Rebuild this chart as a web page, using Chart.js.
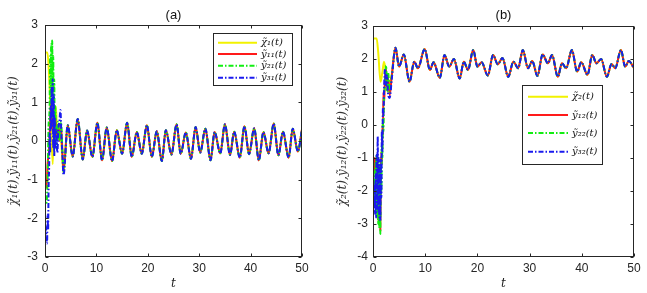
<!DOCTYPE html>
<html><head><meta charset="utf-8">
<script src="https://cdn.jsdelivr.net/npm/chart.js@4.4.0/dist/chart.umd.min.js"></script>
<style>
html,body{margin:0;padding:0;background:#fff;width:647px;height:293px;overflow:hidden}
canvas{position:absolute;top:0}
#ca{left:0}
#cb{left:323px}
</style></head><body>
<canvas id="ca" width="323" height="293"></canvas>
<canvas id="cb" width="324" height="293"></canvas>
<script>
// ---------- tick labels ----------
const xTicks = [0, 10, 20, 30, 40, 50];
const yTicksA = [-3, -2, -1, 0, 1, 2, 3];
const yTicksB = [-4, -3, -2, -1, 0, 1, 2, 3];

// ---------- series names ----------
const namesA = ['\u03C7\u0303\u2081(t)', 'ỹ\u2081\u2081(t)', 'ỹ\u2082\u2081(t)', 'ỹ\u2083\u2081(t)'];
const namesB = ['\u03C7\u0303\u2082(t)', 'ỹ\u2081\u2082(t)', 'ỹ\u2082\u2082(t)', 'ỹ\u2083\u2082(t)'];
const yTitleA = '\u03C7\u0303\u2081(t),ỹ\u2081\u2081(t),ỹ\u2082\u2081(t),ỹ\u2083\u2081(t)';
const yTitleB = '\u03C7\u0303\u2082(t),ỹ\u2081\u2082(t),ỹ\u2082\u2082(t),ỹ\u2083\u2082(t)';

// ---------- panel (a): shared steady oscillation (extrema) ----------
const steadyA_t = [4.42,5.39,6.36,7.34,8.18,9.22,10.19,11.1,12.01,13.05,13.96,15.0,15.97,16.88,17.86,18.83,19.81,20.78,21.75,22.73,23.51,24.6,25.6,26.4,27.4,28.4,29.3,30.2,31.2,32.2,33.0,34.1,35.0,36.0,36.8,37.9,38.8,39.7,40.7,41.6,42.5,43.5,44.5,45.4,46.3,47.4,48.2,49.2,50];
const steadyA_y = [0.41,-0.40,0.57,-0.48,0.27,-0.41,0.47,-0.50,0.35,-0.52,0.28,-0.33,0.47,-0.41,0.23,-0.33,0.41,-0.41,0.25,-0.52,0.28,-0.35,0.43,-0.33,0.22,-0.46,0.36,-0.30,0.32,-0.50,0.23,-0.32,0.43,-0.36,0.24,-0.43,0.38,-0.34,0.33,-0.50,0.23,-0.32,0.45,-0.37,0.24,-0.43,0.32,-0.27,0.30];
// panel (a) transients [t, value]
const earlyA_x1  = [[0,2.29],[0.45,2.29],[1.0,1.1],[1.5,-0.6],[1.8,0.6],[2.1,0.9],[2.4,0.2],[2.8,0.4],[3.2,-0.1],[3.6,-0.83]];
const earlyA_y11 = [[0,-1.2],[0.3,-1.2],[0.5,-0.6],[0.8,-0.2],[1.0,0.5],[1.2,1.0],[1.4,0.3],[1.6,1.1],[1.8,-0.1],[2.0,0.6],[2.3,0.1],[2.5,0.4],[2.8,0.0],[3.1,0.4],[3.4,-0.3],[3.6,-0.75]];
const earlyA_y21 = [[0,-1.5],[0.3,-1.6],[0.5,-1.0],[0.7,0.4],[0.9,0.9],[1.0,2.2],[1.1,1.0],[1.2,2.5],[1.3,1.4],[1.4,2.6],[1.5,0.6],[1.6,2.2],[1.7,0.3],[1.8,1.6],[1.9,-0.1],[2.0,0.9],[2.2,-0.2],[2.5,0.5],[2.8,0.0],[3.1,0.5],[3.4,-0.3],[3.6,-0.8]];
const earlyA_y31 = [[0,-2.2],[0.2,-2.3],[0.4,-2.65],[0.5,-1.9],[0.6,-2.3],[0.7,-1.2],[0.8,-0.7],[0.9,0.2],[1.0,-0.3],[1.1,0.9],[1.2,0.3],[1.3,1.4],[1.4,0.6],[1.5,1.6],[1.6,-0.2],[1.7,1.2],[1.8,-0.4],[1.9,0.6],[2.0,-0.2],[2.2,0.3],[2.4,-0.3],[2.6,0.3],[2.8,0.5],[3.0,0.8],[3.2,0.1],[3.4,-0.4],[3.6,-0.88]];

// ---------- panel (b) ----------
const steadyB_t = [4.3,5.0,5.9,7.0,7.9,8.6,9.9,10.9,11.6,12.8,13.7,14.6,15.5,16.6,17.4,18.2,19.2,20.0,20.8,22.0,23.0,23.9,24.8,25.9,26.9,27.8,28.7,29.7,30.5,31.5,32.5,33.5,34.3,35.4,36.2,37.0,38.1,39.1,39.9,41.1,42.0,42.8,43.7,44.8,45.7,46.4,47.5,48.3,49.0,50];
const steadyB_y = [2.34,1.77,2.14,1.31,1.92,1.72,2.30,1.67,1.90,1.43,2.12,1.77,2.00,1.41,1.92,1.67,2.27,1.77,1.90,1.50,2.12,1.84,2.03,1.46,1.92,1.72,2.27,1.72,1.94,1.49,2.14,1.87,2.12,1.46,1.87,1.72,2.27,1.62,1.90,1.52,2.12,1.87,2.00,1.46,1.85,1.72,2.27,1.77,1.94,1.72];
const earlyB_x2  = [[0,2.62],[0.7,2.62],[1.0,2.2],[1.45,1.31],[1.8,1.6],[2.1,1.92],[2.4,1.7],[2.8,1.2],[3.2,1.3],[3.6,1.5]];
const earlyB_y12 = [[0,-1.4],[0.2,-1.45],[0.3,-1.0],[0.5,-1.2],[0.6,-2.0],[0.7,-1.1],[0.8,-2.6],[0.9,-1.3],[1.0,-2.9],[1.1,-1.6],[1.2,-3.0],[1.3,-1.8],[1.4,-3.2],[1.5,-1.5],[1.6,-0.8],[1.7,-1.2],[1.8,0.0],[1.9,-0.3],[2.0,1.0],[2.1,0.6],[2.3,1.4],[2.5,1.7],[2.7,1.1],[2.9,1.4],[3.2,0.9],[3.6,1.5]];
const earlyB_y22 = [[0,-1.8],[0.2,-1.9],[0.3,-1.4],[0.4,-2.4],[0.5,-1.1],[0.6,-2.6],[0.7,-0.9],[0.8,-2.8],[0.9,-1.2],[1.0,-3.0],[1.1,-1.0],[1.2,-3.1],[1.3,-1.4],[1.4,-3.3],[1.5,-1.2],[1.6,-2.0],[1.7,-0.6],[1.8,-1.0],[1.9,0.2],[2.0,-0.2],[2.1,0.8],[2.3,1.2],[2.5,1.8],[2.7,1.0],[2.9,1.6],[3.2,1.0],[3.6,1.5]];
const earlyB_y32 = [[0,-2.4],[0.2,-2.5],[0.3,-1.8],[0.4,-2.7],[0.5,-1.5],[0.6,-2.8],[0.7,-0.9],[0.8,-2.5],[0.9,-0.35],[1.0,-2.6],[1.1,-1.0],[1.2,-2.8],[1.3,-1.3],[1.4,-2.9],[1.5,-1.0],[1.6,-2.2],[1.7,-0.2],[1.8,-0.8],[1.9,0.5],[2.0,0.3],[2.1,1.0],[2.3,1.7],[2.5,1.2],[2.7,1.5],[2.9,0.9],[3.2,0.82],[3.6,1.4]];

// ---------- styles ----------
const colors = ['#f2f200', '#ff1a1a', '#11ee11', '#1a1aee'];
const dashes = [[], [], [5, 2, 1.5, 2], [5, 2, 1.5, 2]];
const dashOffsets = [0, 0, 3.5, 0];
const drawOrder = [3, 2, 1, 0];
const serifFont = '"DejaVu Serif"';

function series(early, t, y) {
  return early.map(p => ({x: p[0], y: p[1]})).concat(t.map((v, i) => ({x: v, y: y[i]})));
}

function makeDatasets(names, earlies, st, sy) {
  return names.map((n, i) => ({
    label: n,
    data: series(earlies[i], st, sy),
    borderColor: colors[i],
    borderWidth: 2,
    borderDash: dashes[i],
    borderDashOffset: dashOffsets[i],
    pointRadius: 0,
    cubicInterpolationMode: 'monotone',
    order: drawOrder[i],
    fill: false
  }));
}

function framePlugin(cfg) {
  return {
    id: 'frame',
    afterDraw(chart) {
      const ctx = chart.ctx, a = chart.chartArea, xs = chart.scales.x, ys = chart.scales.y;
      ctx.save();
      ctx.strokeStyle = '#262626';
      ctx.lineWidth = 1;
      const L = Math.round(a.left) + 0.5, R = Math.round(a.right) - 0.5, T = Math.round(a.top) + 0.5, B = Math.round(a.bottom) - 0.5;
      ctx.strokeRect(L, T, R - L, B - T);
      ctx.beginPath();
      xTicks.forEach(v => {
        const px = Math.round(xs.getPixelForValue(v)) + 0.5;
        ctx.moveTo(px, B); ctx.lineTo(px, B - 3);
        ctx.moveTo(px, T); ctx.lineTo(px, T + 3);
      });
      cfg.yTicks.forEach(v => {
        const py = Math.round(ys.getPixelForValue(v)) + 0.5;
        ctx.moveTo(L, py); ctx.lineTo(L + 3, py);
        ctx.moveTo(R, py); ctx.lineTo(R - 3, py);
      });
      ctx.stroke();
      // title
      ctx.fillStyle = '#111';
      ctx.font = '13px "Liberation Sans"';
      ctx.textAlign = 'center';
      ctx.textBaseline = 'middle';
      ctx.fillText(cfg.title, (a.left + a.right) / 2, cfg.titleY);
      // legend
      const lg = cfg.legend;
      ctx.fillStyle = '#fff';
      ctx.fillRect(lg.x0, lg.y0, lg.x1 - lg.x0, lg.y1 - lg.y0);
      ctx.strokeStyle = '#262626';
      ctx.lineWidth = 1;
      ctx.strokeRect(lg.x0 + 0.5, lg.y0 + 0.5, lg.x1 - lg.x0, lg.y1 - lg.y0);
      cfg.names.forEach((n, i) => {
        const yy = lg.rows[i];
        ctx.beginPath();
        ctx.setLineDash(dashes[i]);
        ctx.strokeStyle = colors[i];
        ctx.lineWidth = 2;
        ctx.moveTo(lg.lx0, yy); ctx.lineTo(lg.lx1, yy);
        ctx.stroke();
        ctx.setLineDash([]);
        ctx.fillStyle = '#111';
        ctx.font = 'italic 10px ' + serifFont;
        ctx.textAlign = 'left';
        ctx.textBaseline = 'middle';
        ctx.fillText(n, lg.tx, yy);
      });
      ctx.restore();
    }
  };
}

function makeChart(id, cfg) {
  const tickFont = {family: 'Liberation Sans', size: 12};
  return new Chart(document.getElementById(id), {
    type: 'line',
    data: {datasets: makeDatasets(cfg.names, cfg.earlies, cfg.st, cfg.sy)},
    options: {
      responsive: false,
      animation: false,
      devicePixelRatio: 1,
      layout: {padding: {left: 0, right: cfg.padRight, top: cfg.padTop, bottom: 0}},
      plugins: {legend: {display: false}, tooltip: {enabled: false}, title: {display: false}},
      scales: {
        x: {
          type: 'linear', min: 0, max: 50,
          afterBuildTicks: s => { s.ticks = xTicks.map(v => ({value: v})); },
          afterFit: s => { s.height = 36; },
          grid: {display: false, drawTicks: false},
          border: {display: false},
          ticks: {font: tickFont, color: '#262626', padding: 4, maxRotation: 0, autoSkip: false},
          title: {display: true, text: 't', color: '#222', font: {family: 'DejaVu Serif', style: 'italic', size: 12}, padding: {top: 0, bottom: 2}}
        },
        y: {
          type: 'linear', min: cfg.yTicks[0], max: cfg.yTicks[cfg.yTicks.length - 1],
          afterBuildTicks: s => { s.ticks = cfg.yTicks.map(v => ({value: v})); },
          afterFit: s => { s.width = cfg.yWidth; },
          grid: {display: false, drawTicks: false},
          border: {display: false},
          ticks: {font: tickFont, color: '#262626', padding: cfg.yTickPad, autoSkip: false},
          title: {display: true, text: cfg.yTitle, color: '#333', font: {family: 'DejaVu Serif', style: 'italic', size: 12}, padding: {top: cfg.yTitlePad, bottom: 0}}
        }
      }
    },
    plugins: [framePlugin(cfg)]
  });
}

makeChart('ca', {
  names: namesA, earlies: [earlyA_x1, earlyA_y11, earlyA_y21, earlyA_y31], st: steadyA_t, sy: steadyA_y,
  yTicks: yTicksA, yTitle: yTitleA, title: '(a)', titleY: 15,
  padRight: 21, padTop: 25, yWidth: 45, yTickPad: 7, yTitlePad: 7,
  legend: {x0: 213, y0: 33, x1: 292, y1: 85, rows: [42.7, 54, 65.7, 77.7], lx0: 218, lx1: 257, tx: 261}
});
makeChart('cb', {
  names: namesB, earlies: [earlyB_x2, earlyB_y12, earlyB_y22, earlyB_y32], st: steadyB_t, sy: steadyB_y,
  yTicks: yTicksB, yTitle: yTitleB, title: '(b)', titleY: 15,
  padRight: 13, padTop: 26, yWidth: 50, yTickPad: 5, yTitlePad: 13,
  legend: {x0: 199, y0: 85, x1: 279, y1: 164, rows: [96.7, 115, 133, 151.7], lx0: 205, lx1: 245, tx: 249}
});
</script>
</body></html>
